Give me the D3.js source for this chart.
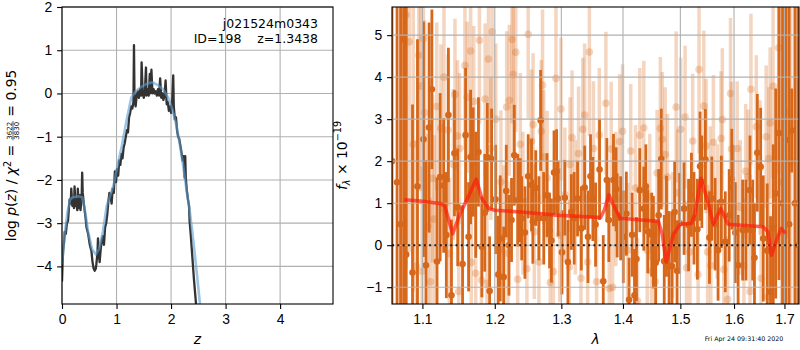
<!DOCTYPE html>
<html>
<head>
<meta charset="utf-8">
<script src="https://cdn.jsdelivr.net/npm/d3@7"></script>
<style>
  body { margin: 0; background: #fff; }
  svg { font-family: "DejaVu Sans", sans-serif; }
  text { white-space: pre; }
  .axis text { font-size: 13.9px; fill: #000; }
  .axis line { stroke: #000; stroke-width: 1.1; }
  .axis .domain { display: none; }
  .grid line { stroke: #b0b0b0; stroke-width: 1.1; }
</style>
</head>
<body>
<svg id="chart" width="800" height="350"></svg>
<script>
// ---------- p(z) panel data ----------
// [z, log p(z)]
const pzCurve = [
  [0.00,-4.35],[0.01,-3.95],[0.02,-3.65],[0.04,-3.40],[0.05,-3.20],[0.07,-3.25],[0.09,-3.00],[0.11,-2.95],
  [0.13,-2.60],[0.14,-2.45],[0.16,-2.55],[0.17,-2.20],[0.19,-2.60],[0.20,-2.45],[0.22,-2.65],[0.23,-2.15],
  [0.25,-2.60],[0.26,-2.50],[0.28,-2.70],[0.29,-2.20],[0.31,-2.65],[0.33,-2.35],[0.34,-2.70],[0.36,-2.40],
  [0.37,-1.83],[0.38,-2.30],[0.40,-2.55],[0.43,-2.85],[0.45,-3.10],[0.48,-3.25],[0.51,-3.50],[0.54,-3.65],
  [0.56,-3.90],[0.58,-4.05],[0.60,-4.10],[0.62,-4.05],[0.63,-3.95],[0.65,-3.70],[0.66,-3.35],[0.67,-3.60],
  [0.69,-3.90],[0.71,-3.60],[0.73,-3.40],[0.75,-3.30],[0.77,-3.50],[0.79,-3.10],[0.81,-3.00],[0.83,-2.80],
  [0.85,-2.50],[0.87,-2.30],[0.89,-2.35],[0.91,-2.55],[0.93,-2.20],[0.95,-2.30],[0.97,-1.80],[0.99,-2.05],
  [1.01,-1.75],[1.03,-1.90],[1.05,-1.55],[1.07,-1.65],[1.09,-1.40],[1.11,-1.50],[1.13,-1.25],[1.15,-1.15],
  [1.17,-1.00],[1.19,-0.85],[1.21,-0.90],[1.23,-0.55],[1.25,-0.45],[1.27,-0.30],[1.29,-0.35],[1.31,-0.20],
  [1.32,1.12],[1.33,-0.15],[1.35,-0.30],[1.37,-0.05],[1.39,0.05],[1.41,-0.10],[1.43,0.10],[1.45,-0.05],
  [1.46,0.72],[1.48,0.00],[1.50,-0.10],[1.52,0.05],[1.54,0.60],[1.55,-0.05],[1.57,0.10],[1.59,-0.05],
  [1.61,0.45],[1.62,0.00],[1.64,0.55],[1.66,0.00],[1.68,0.10],[1.70,0.00],[1.72,0.05],[1.74,-0.05],
  [1.76,0.10],[1.78,-0.05],[1.80,0.35],[1.82,-0.10],[1.84,0.00],[1.86,-0.15],[1.88,-0.05],[1.90,0.30],
  [1.92,-0.25],[1.94,-0.20],[1.96,-0.40],[1.98,-0.30],[2.00,-0.45],[2.02,-0.20],[2.04,0.42],[2.05,-0.30],
  [2.07,-0.60],[2.09,-0.55],[2.11,-0.85],[2.13,-1.00],[2.15,-1.05],[2.17,-1.20],[2.19,-1.35],[2.21,-1.55],
  [2.23,-1.45],[2.25,-1.95],[2.26,-1.45],[2.27,-1.95],[2.29,-2.25],[2.31,-2.45],[2.33,-2.60],[2.34,-2.95],
  [2.36,-3.25],[2.38,-3.60],[2.40,-3.95],[2.42,-4.30],[2.44,-4.60],[2.46,-4.90]
];
// smooth prior-weighted curve [z, log p]
const pzSmooth = [
  [0.00,-3.95],[0.05,-3.25],[0.10,-2.75],[0.15,-2.45],[0.20,-2.40],[0.30,-2.38],[0.37,-2.40],[0.42,-2.70],
  [0.48,-3.20],[0.55,-3.60],[0.62,-3.72],[0.68,-3.60],[0.75,-3.20],[0.82,-2.60],[0.90,-2.30],[0.95,-2.10],
  [1.03,-1.60],[1.10,-1.20],[1.18,-0.65],[1.27,-0.10],[1.35,0.05],[1.45,0.15],[1.55,0.22],[1.65,0.26],
  [1.75,0.20],[1.85,0.10],[1.95,-0.10],[2.02,-0.35],[2.10,-0.75],[2.15,-1.10],[2.22,-1.65],[2.28,-2.20],
  [2.34,-2.70],[2.39,-3.20],[2.43,-3.65],[2.48,-4.25],[2.53,-4.87]
];
const zTicks = [0, 1, 2, 3, 4];
const pTicks = [-4, -3, -2, -1, 0, 1, 2];

// ---------- spectrum panel data ----------
// [lambda, flux, err]  (darker grism)
const specDark = [
  [1.0605,2.00,9],[1.0670,1.50,9],[1.0715,0.50,9],[1.0754,4.90,9],[1.0788,-0.22,8],[1.0870,-0.65,4],
  [1.0935,1.40,3.5],[1.1014,2.52,2.8],[1.1047,-0.48,2.5],[1.1089,2.80,2.5],[1.1126,3.71,1.9],[1.1195,-0.39,2.0],
  [1.1237,1.62,2.0],[1.1285,1.42,1.6],[1.1321,0.24,1.5],[1.1349,3.10,1.6],[1.1391,-1.19,1.8],[1.1432,2.19,1.5],
  [1.1477,0.90,1.4],[1.1544,-0.45,1.4],[1.1586,2.62,1.6],[1.1628,0.20,1.3],[1.1656,2.10,1.6],[1.1693,1.98,1.3],
  [1.1728,1.20,1.5],[1.1767,2.22,1.3],[1.1815,-0.04,1.2],[1.1856,0.77,1.4],[1.1893,2.09,1.3],[1.1926,-1.09,1.3],
  [1.1954,2.05,1.2],[1.2010,1.09,1.3],[1.2049,-0.70,1.4],[1.2079,0.16,1.5],[1.2129,-0.76,1.2],[1.2167,1.29,1.1],
  [1.2207,0.00,1.2],[1.2244,0.60,1.0],[1.2285,2.14,1.2],[1.2336,1.07,1.1],[1.2374,1.07,1.0],[1.2395,0.64,1.0],
  [1.2443,0.30,1.1],[1.2492,1.64,1.0],[1.2542,1.43,1.1],[1.2562,0.56,1.0],[1.2606,1.36,0.9],[1.2654,0.64,1.0],
  [1.2680,2.97,1.2],[1.2728,0.64,1.1],[1.2778,1.19,1.0],[1.2817,0.35,0.9],[1.2846,0.11,1.0],[1.2886,1.73,1.0],
  [1.2926,1.76,1.0],[1.2950,1.11,0.9],[1.3010,-0.17,1.0],[1.3054,1.13,0.9],[1.3103,-0.40,1.0],[1.3157,0.79,0.9],
  [1.3202,0.64,1.1],[1.3256,1.11,0.9],[1.3316,0.40,1.0],[1.3370,1.37,1.0],[1.3423,0.20,1.1],[1.3464,1.64,1.0],
  [1.3502,1.10,1.0],[1.3546,0.49,1.0],[1.3611,1.80,1.2],[1.3672,-0.86,1.1],[1.3731,1.55,1.0],[1.3764,0.60,1.0],
  [1.3841,1.55,1.1],[1.3885,1.33,1.0],[1.3902,0.71,1.0],[1.3961,0.64,1.0],[1.4005,0.20,1.1],[1.4057,0.75,1.0],
  [1.4103,-1.30,1.0],[1.4155,0.25,1.0],[1.4195,-1.19,1.1],[1.4229,-0.33,1.0],[1.4286,1.31,1.0],[1.4355,0.87,1.0],
  [1.4390,1.40,1.0],[1.4424,0.33,1.0],[1.4493,0.25,1.0],[1.4522,0.07,1.1],[1.4562,-0.42,1.0],[1.4614,0.71,1.1],
  [1.4660,2.05,1.2],[1.4712,-0.38,1.1],[1.4752,0.45,1.2],[1.4798,-0.49,1.3],[1.4850,-0.50,1.3],[1.4897,0.79,1.2],
  [1.4941,-0.61,1.2],[1.4988,0.52,1.2],[1.5067,0.87,1.1],[1.5149,0.48,1.1],[1.5201,1.20,1.0],[1.5248,0.64,1.1],
  [1.5310,0.38,1.2],[1.5360,1.88,1.3],[1.5392,1.51,1.1],[1.5459,2.04,1.2],[1.5534,0.18,1.1],[1.5578,1.11,1.0],
  [1.5640,0.50,1.1],[1.5696,-0.12,1.2],[1.5757,1.03,1.1],[1.5832,0.08,1.2],[1.5907,0.71,1.1],[1.5957,1.57,1.2],
  [1.5981,1.39,1.0],[1.6024,0.30,1.2],[1.6079,-0.48,1.2],[1.6166,0.36,1.2],[1.6231,0.36,1.2],[1.6310,1.31,1.3],
  [1.6363,0.36,1.2],[1.6398,-0.30,1.3],[1.6454,2.20,1.4],[1.6521,1.87,1.4],[1.6572,0.16,1.5],[1.6651,-0.13,1.6],
  [1.6718,-1.11,1.8],[1.6773,0.40,2.0],[1.6822,1.23,2.5],[1.6888,2.67,3.5],[1.6961,1.00,8],[1.7031,2.50,8],
  [1.7096,0.50,8],[1.7150,2.73,1.0],[1.7215,1.00,8],[1.7277,0.00,8]
];
// [lambda, flux, err]  (faint second orient)
const specLight = [
  [1.0784,5.48,6],[1.0827,4.84,5],[1.0879,2.40,3.5],[1.0918,-0.50,3],[1.0953,4.52,3],[1.0977,3.79,2.5],
  [1.0996,-0.62,2.5],[1.1014,4.92,2.5],[1.1031,3.15,2.2],[1.1070,0.45,2.2],[1.1107,-0.87,2.0],[1.1135,1.59,2.0],
  [1.1156,0.62,2.0],[1.1191,3.30,2.0],[1.1247,2.78,2.0],[1.1289,4.00,2.0],[1.1344,2.74,1.8],[1.1363,-0.20,1.8],
  [1.1418,1.92,1.8],[1.1439,3.59,1.8],[1.1474,2.60,1.8],[1.1491,-1.10,1.8],[1.1502,2.30,1.8],[1.1577,4.28,2.0],
  [1.1609,3.52,1.8],[1.1656,4.62,2.0],[1.1665,-0.41,1.8],[1.1700,3.42,1.8],[1.1728,-0.67,1.8],[1.1781,4.88,2.0],
  [1.1809,-0.83,1.8],[1.1861,3.48,1.8],[1.1888,-0.91,1.8],[1.1909,4.43,2.0],[1.1944,2.30,1.7],[1.1962,5.08,2.0],
  [1.2015,3.00,1.8],[1.2089,1.51,1.7],[1.2133,0.20,1.7],[1.2173,3.29,1.8],[1.2192,-0.19,1.7],[1.2211,3.45,1.8],
  [1.2251,4.90,2.0],[1.2270,4.06,1.9],[1.2307,4.59,1.9],[1.2335,-0.81,1.7],[1.2374,2.40,1.7],[1.2414,1.00,1.7],
  [1.2473,-0.56,1.7],[1.2492,5.02,2.0],[1.2542,2.48,1.7],[1.2566,2.87,1.7],[1.2584,0.32,1.6],[1.2654,-0.40,1.6],
  [1.2690,2.71,1.7],[1.2709,3.81,1.8],[1.2728,2.10,1.6],[1.2780,1.60,1.6],[1.2827,-0.89,1.6],[1.2876,-0.63,1.6],
  [1.2916,3.97,1.8],[1.2975,0.24,1.6],[1.2994,3.24,1.7],[1.3054,1.20,1.6],[1.3125,-0.52,1.6],[1.3136,1.92,1.6],
  [1.3169,2.56,1.6],[1.3220,0.90,1.6],[1.3272,2.18,1.6],[1.3310,-0.79,1.6],[1.3339,2.76,1.7],[1.3369,3.10,1.7],
  [1.3418,-0.40,1.6],[1.3446,4.60,2.0],[1.3512,2.30,1.6],[1.3562,-0.87,1.6],[1.3607,2.62,1.6],[1.3715,3.38,1.7],
  [1.3771,-1.03,1.6],[1.3803,2.29,1.6],[1.3825,-1.00,1.6],[1.3880,1.10,1.6],[1.3944,2.47,1.6],[1.3993,2.71,1.6],
  [1.4079,-0.12,1.6],[1.4131,2.24,1.6],[1.4212,1.36,1.5],[1.4247,-1.33,1.5],[1.4286,2.62,1.6],[1.4355,2.79,1.6],
  [1.4414,-0.12,1.5],[1.4459,1.15,1.5],[1.4488,-0.62,1.5],[1.4552,-0.87,1.5],[1.4586,1.72,1.5],[1.4643,2.78,1.7],
  [1.4678,2.52,1.6],[1.4729,2.16,1.6],[1.4769,1.62,1.5],[1.4862,0.24,1.5],[1.4924,3.29,1.8],[1.4948,1.25,1.5],
  [1.5006,2.76,1.7],[1.5086,3.05,1.7],[1.5112,-0.54,1.6],[1.5174,-0.16,1.6],[1.5224,2.48,1.6],[1.5323,-0.70,1.6],
  [1.5341,4.18,2.0],[1.5429,3.31,1.8],[1.5472,2.36,1.6],[1.5500,-0.16,1.6],[1.5547,1.23,1.6],[1.5560,-0.48,1.6],
  [1.5608,2.45,1.6],[1.5680,0.80,1.6],[1.5752,2.54,1.6],[1.5776,2.99,1.7],[1.5804,-0.58,1.6],[1.5877,-1.29,1.5],
  [1.5933,3.61,1.8],[1.5952,2.29,1.6],[1.6060,2.30,1.6],[1.6120,0.90,1.6],[1.6191,-0.49,1.6],[1.6225,1.76,1.6],
  [1.6276,1.63,1.6],[1.6310,-1.10,1.6],[1.6329,3.71,1.8],[1.6434,2.82,1.7],[1.6507,1.85,1.6],[1.6530,-0.79,1.6],
  [1.6631,2.58,1.7],[1.6665,-1.23,1.7],[1.6684,2.06,1.7],[1.6710,2.91,1.8],[1.6769,3.79,2.2],[1.6882,4.70,3.0],
  [1.6940,1.50,6],[1.7055,3.17,3.0],[1.7130,2.00,6]
];
// best-fit template [lambda, flux]
const specModel = [
  [1.0762,1.08],[1.0970,1.05],[1.1247,0.99],[1.1300,0.93],[1.1407,0.27],[1.1498,0.70],[1.1609,1.10],
  [1.1735,1.57],[1.1819,1.10],[1.1916,0.87],[1.2000,0.83],[1.2384,0.79],[1.2975,0.71],[1.3628,0.66],
  [1.3693,0.85],[1.3764,1.20],[1.3841,0.95],[1.3956,0.64],[1.4298,0.60],[1.4609,0.57],[1.4678,0.25],
  [1.4747,-0.40],[1.4820,-0.02],[1.4875,0.26],[1.5000,0.50],[1.5200,0.52],[1.5267,0.75],[1.5373,1.59],
  [1.5496,1.07],[1.5608,0.50],[1.5746,0.87],[1.5888,0.50],[1.6566,0.44],[1.6664,0.32],[1.6738,-0.24],
  [1.6852,0.16],[1.6935,0.40],[1.7021,0.28]
];
const lamTicks = [1.1, 1.2, 1.3, 1.4, 1.5, 1.6, 1.7];
const fluxTicks = [-1, 0, 1, 2, 3, 4, 5];

const orange = "#d7671a";

const svg = d3.select("#chart");

// ================= left panel =================
const L = {left: 62, right: 333, top: 7, bottom: 304};
const xz = d3.scaleLinear().domain([0, 4.97]).range([L.left, L.right]);
const yp = d3.scaleLinear().domain([-4.87, 2]).range([L.bottom, L.top]);

svg.append("clipPath").attr("id", "clipL")
  .append("rect").attr("x", L.left).attr("y", L.top)
  .attr("width", L.right - L.left).attr("height", L.bottom - L.top);

const gridL = svg.append("g").attr("class", "grid");
gridL.selectAll(".gx").data(zTicks).enter().append("line")
  .attr("x1", d => xz(d)).attr("x2", d => xz(d)).attr("y1", L.top).attr("y2", L.bottom);
gridL.selectAll(".gy").data(pTicks).enter().append("line")
  .attr("y1", d => yp(d)).attr("y2", d => yp(d)).attr("x1", L.left).attr("x2", L.right);

const lineL = d3.line().x(d => xz(d[0])).y(d => yp(d[1]));
const curvesL = svg.append("g").attr("clip-path", "url(#clipL)");
curvesL.append("path").datum(pzCurve).attr("d", lineL)
  .attr("fill", "none").attr("stroke", "#333").attr("stroke-width", 2.3)
  .attr("stroke-linejoin", "round");
curvesL.append("path").datum(pzSmooth).attr("d", lineL)
  .attr("fill", "none").attr("stroke", "#5d9ccf").attr("stroke-opacity", 0.6)
  .attr("stroke-width", 2.6);

svg.append("g").attr("class", "axis")
  .attr("transform", "translate(0," + L.bottom + ")")
  .call(d3.axisBottom(xz).tickValues(zTicks).tickSize(4.9).tickPadding(4.9).tickFormat(d3.format("d")));
svg.append("g").attr("class", "axis")
  .attr("transform", "translate(" + L.left + ",0)")
  .call(d3.axisLeft(yp).tickValues(pTicks).tickSize(4.9).tickPadding(4.9).tickFormat(d3.format("d")));

svg.append("rect").attr("x", L.left).attr("y", L.top)
  .attr("width", L.right - L.left).attr("height", L.bottom - L.top)
  .attr("fill", "none").attr("stroke", "#000").attr("stroke-width", 1.1);

svg.append("text").attr("x", 318).attr("y", 28).attr("text-anchor", "end")
  .attr("font-size", 12.5).text("j021524m0343");
svg.append("text").attr("x", 318).attr("y", 42.5).attr("text-anchor", "end")
  .attr("font-size", 12.5).text("ID=198    z=1.3438");

svg.append("text").attr("x", (L.left + L.right) / 2).attr("y", 344)
  .attr("text-anchor", "middle").attr("font-size", 13.9).attr("font-style", "italic").text("z");

// y label with fraction
const yl = svg.append("g").attr("transform", "translate(16,155.5) rotate(-90)");
const t1 = yl.append("text").attr("font-size", 13.9);
t1.append("tspan").text("log ");
t1.append("tspan").attr("font-style", "italic").text("p");
t1.append("tspan").text("(");
t1.append("tspan").attr("font-style", "italic").text("z");
t1.append("tspan").text(") / ");
t1.append("tspan").attr("font-style", "italic").text("χ");
t1.append("tspan").attr("font-size", 9.7).attr("dy", -5.5).text("2");
t1.append("tspan").attr("dy", 5.5).text(" = ");
const num = yl.append("text").attr("font-size", 7).attr("text-anchor", "middle").attr("y", -4.5).text("3622");
const den = yl.append("text").attr("font-size", 7).attr("text-anchor", "middle").attr("y", 3.3).text("3830");
const t3 = yl.append("text").attr("font-size", 13.9).text(" = 0.95");
const w1 = t1.node().getComputedTextLength();
const wf = Math.max(num.node().getComputedTextLength(), den.node().getComputedTextLength()) + 1.5;
const w3 = t3.node().getComputedTextLength();
const x0 = -(w1 + wf + w3) / 2;
t1.attr("x", x0);
num.attr("x", x0 + w1 + wf / 2);
den.attr("x", x0 + w1 + wf / 2);
yl.append("line").attr("x1", x0 + w1).attr("x2", x0 + w1 + wf)
  .attr("y1", -3).attr("y2", -3).attr("stroke", "#000").attr("stroke-width", 0.6);
t3.attr("x", x0 + w1 + wf);

// ================= right panel =================
const R = {left: 392, right: 799, top: 7, bottom: 304};
const xl = d3.scaleLog().domain([1.0605, 1.7300]).range([R.left, R.right]);
const yf = d3.scaleLinear().domain([-1.40, 5.67]).range([R.bottom, R.top]);

svg.append("clipPath").attr("id", "clipR")
  .append("rect").attr("x", R.left).attr("y", R.top)
  .attr("width", R.right - R.left).attr("height", R.bottom - R.top);

const plotR = svg.append("g").attr("clip-path", "url(#clipR)");

// dark error bars + points
const dk = plotR.append("g");
dk.selectAll("line").data(specDark).enter().append("line")
  .attr("x1", d => xl(d[0])).attr("x2", d => xl(d[0]))
  .attr("y1", d => yf(d[1] - d[2])).attr("y2", d => yf(d[1] + d[2]))
  .attr("stroke", orange).attr("stroke-width", 2.8);
dk.selectAll("circle").data(specDark).enter().append("circle")
  .attr("cx", d => xl(d[0])).attr("cy", d => yf(d[1])).attr("r", 3.3)
  .attr("fill", orange);

// faint error bars + points
const lt = plotR.append("g");
lt.selectAll("line").data(specLight).enter().append("line")
  .attr("x1", d => xl(d[0])).attr("x2", d => xl(d[0]))
  .attr("y1", d => yf(d[1] - d[2])).attr("y2", d => yf(d[1] + d[2]))
  .attr("stroke", orange).attr("stroke-opacity", 0.28).attr("stroke-width", 3.5);
lt.selectAll("circle").data(specLight).enter().append("circle")
  .attr("cx", d => xl(d[0])).attr("cy", d => yf(d[1])).attr("r", 3.8)
  .attr("fill", orange).attr("fill-opacity", 0.28);

const gridR = svg.append("g").attr("class", "grid");
gridR.selectAll(".gx").data(lamTicks).enter().append("line")
  .attr("x1", d => xl(d)).attr("x2", d => xl(d)).attr("y1", R.top).attr("y2", R.bottom);
gridR.selectAll(".gy").data(fluxTicks).enter().append("line")
  .attr("y1", d => yf(d)).attr("y2", d => yf(d)).attr("x1", R.left).attr("x2", R.right);

const over = svg.append("g").attr("clip-path", "url(#clipR)");
over.append("line").attr("x1", R.left).attr("x2", R.right)
  .attr("y1", yf(0)).attr("y2", yf(0))
  .attr("stroke", "#000").attr("stroke-opacity", 0.85).attr("stroke-width", 2)
  .attr("stroke-dasharray", "2,3.3");
over.append("path").datum(specModel)
  .attr("d", d3.line().x(d => xl(d[0])).y(d => yf(d[1])))
  .attr("fill", "none").attr("stroke", "#ff1a0a").attr("stroke-opacity", 0.68)
  .attr("stroke-width", 3.6).attr("stroke-linejoin", "round");

svg.append("g").attr("class", "axis")
  .attr("transform", "translate(0," + R.bottom + ")")
  .call(d3.axisBottom(xl).tickValues(lamTicks).tickSize(4.9).tickPadding(4.9).tickFormat(d3.format(".1f")));
svg.append("g").attr("class", "axis")
  .attr("transform", "translate(" + R.left + ",0)")
  .call(d3.axisLeft(yf).tickValues(fluxTicks).tickSize(4.9).tickPadding(4.9).tickFormat(d3.format("d")));

svg.append("rect").attr("x", R.left).attr("y", R.top)
  .attr("width", R.right - R.left).attr("height", R.bottom - R.top)
  .attr("fill", "none").attr("stroke", "#000").attr("stroke-width", 1.1);

svg.append("text").attr("x", (R.left + R.right) / 2).attr("y", 344)
  .attr("text-anchor", "middle").attr("font-size", 13.9).attr("font-style", "italic").text("λ");

const yr = svg.append("text").attr("font-size", 13.9).attr("text-anchor", "middle")
  .attr("transform", "translate(347,155.5) rotate(-90)");
yr.append("tspan").attr("font-style", "italic").text("f");
yr.append("tspan").attr("font-style", "italic").attr("font-size", 9.7).attr("dy", 3).text("λ");
yr.append("tspan").attr("dy", -3).text(" × 10");
yr.append("tspan").attr("font-size", 9.7).attr("dy", -6).text("−19");

svg.append("text").attr("x", 744).attr("y", 341).attr("text-anchor", "middle")
  .attr("font-size", 6.3).text("Fri Apr 24 09:31:40 2020");
</script>
</body>
</html>
